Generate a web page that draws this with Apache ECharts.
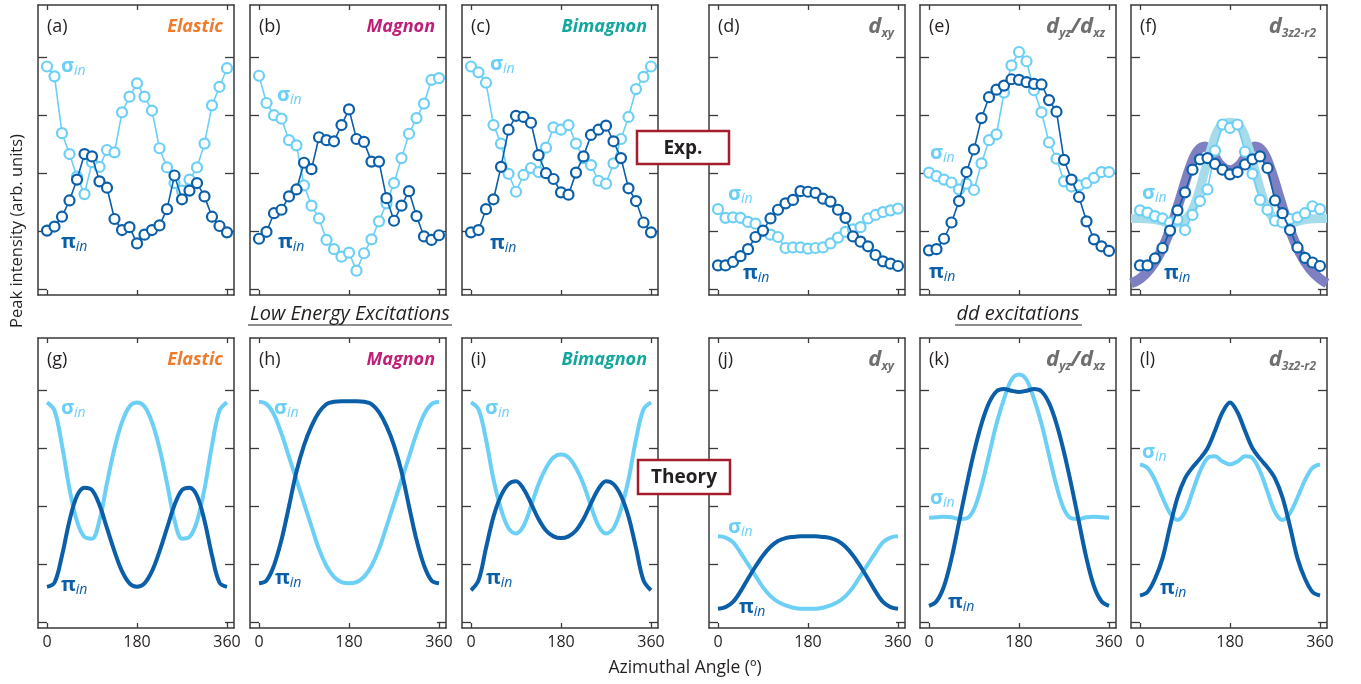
<!DOCTYPE html>
<html><head><meta charset="utf-8">
<script src="https://cdn.jsdelivr.net/npm/echarts@6/dist/echarts.min.js"></script>
<style>html,body{margin:0;padding:0;background:#fff}#c{width:1361px;height:684px}</style>
</head><body><div id="c"></div>
<script>
// ---------- data ----------
const ANGLES = [0,15,30,45,60,75,90,105,120,135,150,165,180,195,210,225,240,255,270,285,300,315,330,345,360];
const X_TICKS = [0,180,360];
const Y_TICKS = [0,1,2,3,4];

// Experiment (top row)
const A_SIGMA = [3.84,3.67,2.69,2.33,1.94,1.64,2.19,2.11,2.40,2.36,3.05,3.32,3.55,3.32,3.08,2.43,2.10,1.83,1.70,1.89,2.10,2.51,3.17,3.49,3.81];
const A_PI    = [1.01,1.08,1.25,1.53,1.89,2.33,2.29,1.86,1.75,1.21,1.02,1.07,0.79,0.94,1.02,1.10,1.38,1.96,1.55,1.70,1.83,1.60,1.25,1.09,0.98];
const B_SIGMA = [3.68,3.21,3.00,2.94,2.57,2.48,1.79,1.44,1.22,0.85,0.69,0.56,0.63,0.32,0.62,0.86,1.17,1.48,1.83,2.26,2.68,2.95,3.20,3.61,3.64];
const B_PI    = [0.87,0.99,1.31,1.37,1.60,1.72,2.18,2.07,2.62,2.57,2.55,2.83,3.10,2.59,2.54,2.20,2.20,1.57,1.18,1.44,1.69,1.26,0.91,0.85,0.93];
const C_SIGMA = [3.84,3.74,3.56,2.83,2.51,1.99,1.68,1.97,2.09,2.02,2.44,2.79,2.75,2.83,2.51,2.26,2.14,1.87,1.82,2.17,2.59,2.97,3.45,3.66,3.84];
const C_PI    = [0.98,1.02,1.38,1.55,2.11,2.75,2.99,2.97,2.87,2.31,2.00,1.90,1.67,1.63,2.01,2.29,2.66,2.75,2.82,2.55,2.26,1.74,1.52,1.15,0.98];
const D_SIGMA = [1.38,1.23,1.24,1.23,1.16,1.13,1.00,0.94,0.90,0.71,0.72,0.72,0.70,0.71,0.72,0.79,0.89,0.99,1.03,1.07,1.22,1.28,1.33,1.36,1.39];
const D_PI    = [0.41,0.41,0.47,0.57,0.69,0.90,1.01,1.22,1.37,1.48,1.54,1.69,1.68,1.66,1.56,1.51,1.37,1.23,0.91,0.82,0.74,0.59,0.48,0.44,0.40];
const E_SIGMA = [2.01,1.95,1.89,1.84,1.72,1.82,1.71,2.17,2.57,2.67,3.39,3.86,4.09,3.93,3.43,3.05,2.53,2.25,1.86,1.77,1.79,1.83,1.92,2.02,2.02];
const E_PI    = [0.67,0.69,0.87,1.15,1.52,2.02,2.41,2.95,3.31,3.44,3.51,3.62,3.61,3.57,3.54,3.53,3.26,3.06,2.23,1.89,1.59,1.17,0.86,0.74,0.66];
const F_SIGMA = [1.36,1.32,1.26,1.22,1.15,1.20,1.02,1.28,1.52,1.72,2.39,2.84,2.78,2.84,2.37,1.99,1.54,1.37,1.18,1.15,1.21,1.24,1.31,1.43,1.38];
const F_PI    = [0.41,0.41,0.53,0.71,1.01,1.36,1.67,2.06,2.24,2.26,2.16,2.06,1.98,2.02,2.15,2.24,2.29,2.09,1.53,1.31,1.02,0.72,0.54,0.46,0.40];

// Fits drawn behind panel (f)
const F_FIT_ANGLES = [-18,0,20,40,60,80,100,115,130,145,160,180,200,215,230,245,260,280,300,320,340,360,374];
const F_FIT_PI     = [0.10,0.18,0.35,0.62,1.02,1.55,2.10,2.38,2.46,2.35,2.15,2.05,2.15,2.35,2.46,2.38,2.10,1.55,1.02,0.62,0.35,0.18,0.10];
const F_FIT_SIGMA  = [1.22,1.22,1.21,1.18,1.14,1.15,1.30,1.60,2.05,2.50,2.80,2.88,2.80,2.50,2.05,1.60,1.30,1.15,1.14,1.18,1.21,1.22,1.22];

// Theory (bottom row)
const G_SIGMA = [3.79,3.65,3.05,2.30,1.74,1.47,1.44,1.76,2.40,3.00,3.45,3.72,3.79,3.72,3.45,3.00,2.40,1.76,1.44,1.47,1.74,2.30,3.05,3.65,3.79];
const G_PI    = [0.61,0.68,1.15,1.75,2.18,2.32,2.28,2.02,1.62,1.22,0.88,0.67,0.61,0.67,0.88,1.22,1.62,2.02,2.28,2.32,2.18,1.75,1.15,0.68,0.61];
const H_SIGMA = [3.80,3.76,3.58,3.25,2.85,2.45,2.05,1.65,1.26,0.97,0.78,0.69,0.67,0.69,0.78,0.97,1.26,1.65,2.05,2.45,2.85,3.25,3.58,3.76,3.80];
const H_PI    = [0.67,0.72,0.98,1.42,2.00,2.60,3.05,3.38,3.62,3.76,3.80,3.81,3.81,3.81,3.80,3.76,3.62,3.38,3.05,2.60,2.00,1.42,0.98,0.72,0.67];
const I_SIGMA = [3.79,3.67,3.15,2.46,1.95,1.62,1.53,1.66,2.00,2.38,2.66,2.84,2.89,2.84,2.66,2.38,2.00,1.66,1.53,1.62,1.95,2.46,3.15,3.67,3.79];
const I_PI    = [0.55,0.72,1.28,1.82,2.18,2.38,2.43,2.30,2.05,1.78,1.58,1.48,1.45,1.48,1.58,1.78,2.05,2.30,2.43,2.38,2.18,1.82,1.28,0.72,0.55];
const J_SIGMA = [1.48,1.46,1.38,1.20,1.00,0.80,0.60,0.45,0.35,0.29,0.25,0.23,0.23,0.23,0.25,0.29,0.35,0.45,0.60,0.80,1.00,1.20,1.38,1.46,1.48];
const J_PI    = [0.23,0.26,0.35,0.53,0.75,0.96,1.15,1.30,1.40,1.45,1.47,1.48,1.48,1.48,1.47,1.45,1.40,1.30,1.15,0.96,0.75,0.53,0.35,0.26,0.23];
const K_SIGMA = [1.80,1.81,1.82,1.81,1.78,1.79,1.95,2.35,2.88,3.42,3.85,4.18,4.27,4.18,3.85,3.42,2.88,2.35,1.95,1.79,1.78,1.81,1.82,1.81,1.80];
const K_PI    = [0.28,0.36,0.62,1.10,1.72,2.35,2.93,3.42,3.78,3.98,4.02,3.99,3.97,3.99,4.02,3.98,3.78,3.42,2.93,2.35,1.72,1.10,0.62,0.36,0.28];
const L_SIGMA = [2.72,2.66,2.45,2.15,1.88,1.76,1.90,2.25,2.60,2.83,2.86,2.77,2.72,2.77,2.86,2.83,2.60,2.25,1.90,1.76,1.88,2.15,2.45,2.66,2.72];
const L_PI    = [0.46,0.52,0.75,1.10,1.65,2.15,2.48,2.67,2.82,3.00,3.30,3.62,3.79,3.62,3.30,3.00,2.82,2.67,2.48,2.15,1.65,1.10,0.75,0.52,0.46];

// ---------- style ----------
const FONT = '"Open Sans", "Noto Sans", sans-serif';
const LIGHT = '#6ccff5';
const DARK = '#0b5ea8';
const FRAME = '#3a3a3a';
const TXT = '#231f20';
const C_EL = '#ef7b2b', C_MAG = '#bf1f77', C_BIM = '#12a79c', C_D = '#6d6e70';
const LEFTS = [38,250,462,709,920,1131], TOPS = [5,338], W = 196, H = 290;

const zip = (xs, ys) => xs.map((x, i) => [x, ys[i]]);

const panels = [
  {lab:'(a)', title:'{t|Elastic}', tc:C_EL, row:0, col:0, exp:true, s:A_SIGMA, p:A_PI, sl:[61,66], pl:[61,242]},
  {lab:'(b)', title:'{t|Magnon}', tc:C_MAG, row:0, col:1, exp:true, s:B_SIGMA, p:B_PI, sl:[277,95], pl:[278,242]},
  {lab:'(c)', title:'{t|Bimagnon}', tc:C_BIM, row:0, col:2, exp:true, s:C_SIGMA, p:C_PI, sl:[490,64], pl:[490,243]},
  {lab:'(d)', title:'{d|d}{s|xy}', tc:C_D, row:0, col:3, exp:true, s:D_SIGMA, p:D_PI, sl:[728,194], pl:[743,273]},
  {lab:'(e)', title:'{d|d}{s|yz}{d|/d}{s|xz}', tc:C_D, row:0, col:4, exp:true, s:E_SIGMA, p:E_PI, sl:[930,153], pl:[929,272]},
  {lab:'(f)', title:'{d|d}{s|3z2-r2}', tc:C_D, row:0, col:5, exp:true, s:F_SIGMA, p:F_PI, sl:[1142,193], pl:[1164,273], fit:true},
  {lab:'(g)', title:'{t|Elastic}', tc:C_EL, row:1, col:0, exp:false, s:G_SIGMA, p:G_PI, sl:[61,408], pl:[61,585]},
  {lab:'(h)', title:'{t|Magnon}', tc:C_MAG, row:1, col:1, exp:false, s:H_SIGMA, p:H_PI, sl:[274,408], pl:[275,578]},
  {lab:'(i)', title:'{t|Bimagnon}', tc:C_BIM, row:1, col:2, exp:false, s:I_SIGMA, p:I_PI, sl:[485,408], pl:[486,578]},
  {lab:'(j)', title:'{d|d}{s|xy}', tc:C_D, row:1, col:3, exp:false, s:J_SIGMA, p:J_PI, sl:[728,527], pl:[739,607]},
  {lab:'(k)', title:'{d|d}{s|yz}{d|/d}{s|xz}', tc:C_D, row:1, col:4, exp:false, s:K_SIGMA, p:K_PI, sl:[930,498], pl:[948,602]},
  {lab:'(l)', title:'{d|d}{s|3z2-r2}', tc:C_D, row:1, col:5, exp:false, s:L_SIGMA, p:L_PI, sl:[1142,452], pl:[1160,588]}
];

const grid = [], xAxis = [], yAxis = [], series = [], graphic = [];
const axLine = {show:true, onZero:false, lineStyle:{color:FRAME, width:1.5}};

panels.forEach((pn, i) => {
  const left = LEFTS[pn.col], top = TOPS[pn.row];
  grid.push({left:left, top:top, width:W, height:H, containLabel:false});
  ['bottom','top'].forEach(pos => {
    xAxis.push({gridIndex:i, type:'value', min:-18, max:374, position:pos,
      axisLine:axLine,
      axisTick:{show:true, inside:true, length:5, customValues:X_TICKS, lineStyle:{color:FRAME, width:1.3}},
      axisLabel:{show: pos==='bottom' && pn.row===1, customValues:X_TICKS, fontSize:16, color:TXT, fontFamily:FONT, margin:6},
      splitLine:{show:false}});
  });
  ['left','right'].forEach(pos => {
    yAxis.push({gridIndex:i, type:'value', min:-0.1, max:4.9, position:pos,
      axisLine:axLine,
      axisTick:{show:true, inside:true, length:9, customValues:Y_TICKS, lineStyle:{color:FRAME, width:1.3}},
      axisLabel:{show:false}, splitLine:{show:false}});
  });
  const xi = 2*i, yi = 2*i;
  if (pn.fit) {
    series.push({type:'line', xAxisIndex:xi, yAxisIndex:yi, data:zip(F_FIT_ANGLES, F_FIT_PI), smooth:0.4,
      symbol:'none', lineStyle:{color:'#7f80c2', width:10}, z:1, silent:true});
    series.push({type:'line', xAxisIndex:xi, yAxisIndex:yi, data:zip(F_FIT_ANGLES, F_FIT_SIGMA), smooth:0.4,
      symbol:'none', lineStyle:{color:'#a6dbe9', width:9}, z:1, silent:true});
  }
  if (pn.exp) {
    [[pn.s, LIGHT],[pn.p, DARK]].forEach(([d,c], k) => {
      series.push({type:'line', xAxisIndex:xi, yAxisIndex:yi, data:zip(ANGLES, d),
        symbol:'circle', symbolSize:10, showSymbol:true,
        lineStyle:{color:c, width:1.6}, itemStyle:{color:'#fff', borderColor:c, borderWidth:2.2}, z:3+k});
    });
  } else {
    [[pn.s, LIGHT],[pn.p, DARK]].forEach(([d,c], k) => {
      series.push({type:'line', xAxisIndex:xi, yAxisIndex:yi, data:zip(ANGLES, d), smooth:0.35,
        symbol:'none', lineStyle:{color:c, width:4}, z:3+k});
    });
  }
  // panel label
  graphic.push({type:'text', x:left+9, y:top+22, z:20, style:{text:pn.lab, fill:TXT,
    font:'18px '+FONT, textAlign:'left', textVerticalAlign:'middle'}});
  // title
  graphic.push({type:'text', x:left+W-11, y:top+22, z:20, style:{text:pn.title,
    textAlign:'right', textVerticalAlign:'middle',
    rich:{
      t:{fill:pn.tc, fontSize:18, fontWeight:'bold', fontStyle:'italic', fontFamily:FONT, lineHeight:26},
      d:{fill:pn.tc, fontSize:22, fontWeight:'bold', fontStyle:'italic', fontFamily:FONT, lineHeight:26},
      s:{fill:pn.tc, fontSize:12, fontWeight:'bold', fontStyle:'italic', fontFamily:FONT, lineHeight:26, verticalAlign:'bottom'}
    }}});
  // sigma / pi labels
  [[pn.sl,'σ',LIGHT],[pn.pl,'π',DARK]].forEach(([pt,g,c]) => {
    graphic.push({type:'text', x:pt[0], y:pt[1], z:20, style:{text:'{g|'+g+'}{i|in}',
      textAlign:'left', textVerticalAlign:'middle',
      rich:{
        g:{fill:c, fontSize:20, fontWeight:'bold', fontFamily:FONT, lineHeight:24},
        i:{fill:c, fontSize:14, fontStyle:'italic', fontFamily:FONT, lineHeight:24, verticalAlign:'bottom'}
      }}});
  });
});

// boxes
[['Exp.',637,131,92,33],['Theory',638,460,92,34]].forEach(([t,x,y,w,h]) => {
  graphic.push({type:'rect', z:30, shape:{x:x,y:y,width:w,height:h}, style:{fill:'#fff', stroke:'#a51d2d', lineWidth:2.5}});
  graphic.push({type:'text', z:31, x:x+w/2, y:y+h/2+1, style:{text:t, fill:TXT, font:'bold 19px '+FONT, textAlign:'center', textVerticalAlign:'middle'}});
});
// section labels
[['Low Energy Excitations',350,248,452],['dd excitations',1018,955,1082]].forEach(([t,cx,x1,x2]) => {
  graphic.push({type:'text', z:20, x:cx, y:314, style:{text:t, fill:TXT, font:'italic 20px '+FONT, textAlign:'center', textVerticalAlign:'middle'}});
  graphic.push({type:'line', z:20, shape:{x1:x1,y1:325,x2:x2,y2:325}, style:{stroke:TXT, lineWidth:1.2}});
});
// axis titles
graphic.push({type:'text', z:20, x:685, y:668, style:{text:'Azimuthal Angle (º)', fill:TXT, font:'17.5px '+FONT, textAlign:'center', textVerticalAlign:'middle'}});
graphic.push({type:'text', z:20, x:17, y:231, rotation:Math.PI/2, style:{text:'Peak intensity (arb. units)', fill:TXT, font:'16.5px '+FONT, textAlign:'center', textVerticalAlign:'middle'}});

const chart = echarts.init(document.getElementById('c'), null, {renderer:'canvas'});
chart.setOption({animation:false, backgroundColor:'#fff', grid, xAxis, yAxis, series, graphic});
</script></body></html>
